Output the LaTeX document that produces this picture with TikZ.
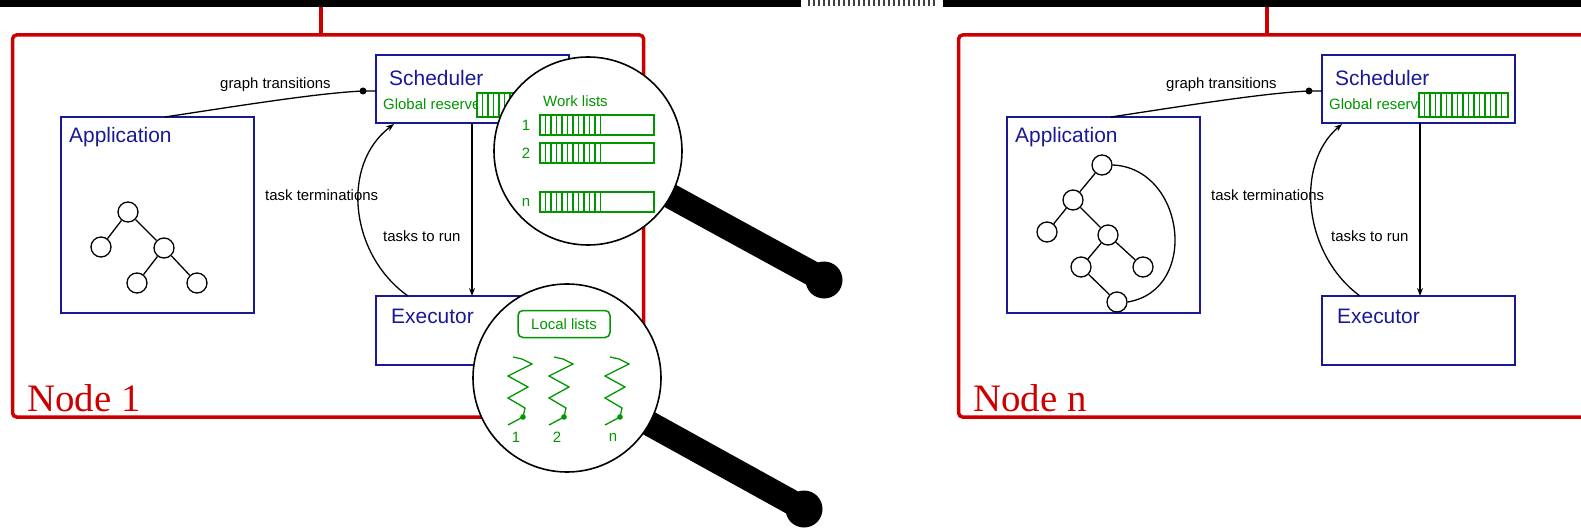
\documentclass[tikz,border=0pt]{standalone}
\usepackage{fontspec}
\setmainfont{Liberation Sans}
\newfontfamily\nodeserif{Liberation Serif}
\usetikzlibrary{arrows.meta}
\definecolor{cred}{RGB}{204,0,0}
\definecolor{cblue}{RGB}{25,25,150}
\definecolor{cgreen}{RGB}{0,150,0}
\tikzset{
 redbox/.style={draw=cred, line width=3.5bp, rounded corners=4bp, anchor=north west, inner sep=0, outer sep=0},
 bluebox/.style={draw=cblue, line width=1.8bp, anchor=north west, inner sep=0, outer sep=0, fill=white},
 boxtitle/.style={text=cblue, font=\fontsize{21}{23}\selectfont, anchor=west, inner sep=0},
 lbl/.style={font=\fontsize{15}{17}\selectfont, anchor=west, inner sep=0},
 grn/.style={text=cgreen, font=\fontsize{15}{17}\selectfont, inner sep=0},
 gbar/.style={draw=cgreen, line width=1.5bp, fill=white, anchor=north west, inner sep=0, outer sep=0},
 stripe/.style={draw=cgreen, line width=1.3bp},
 conn/.style={line width=1.3bp},
 arr/.style={conn, -{Stealth[length=8bp,width=6bp]}},
 tnode/.style={circle, draw, line width=1.3bp, minimum size=20bp, inner sep=0, fill=white},
 lens/.style={circle, draw, line width=1.6bp, fill=white, minimum size=188bp, inner sep=0},
 handle/.style={line width=25bp, line cap=round},
 nodelabel/.style={text=cred, font=\nodeserif\fontsize{39}{41}\selectfont, anchor=base west, inner sep=0},
 stem/.style={draw=cred, line width=3.5bp},
}
\begin{document}
\begin{tikzpicture}[x=1bp,y=-1bp]
\useasboundingbox (0,0) rectangle (1581,532);
\clip (0,0) rectangle (1581,532);
% ---------- bus ----------
\fill (0,0) rectangle (801,7);
\fill (943,0) rectangle (1581,7);
\draw[line width=6bp, dash pattern=on 2bp off 3bp, black!75] (808,3) -- (938,3);
\coordinate (bus1) at (321,7);
\coordinate (bus2) at (1267,7);

% ================= NODE 1 =================
\node[redbox, minimum width=631bp, minimum height=382bp] (rb1) at (12.6,35) {};
\draw[stem] (bus1) -- (bus1 |- rb1.north);
\node[nodelabel] (nl1) at (27,411) {Node 1};

\node[bluebox, minimum width=193bp, minimum height=196bp] (app1) at (61,117) {};
\node[boxtitle] (app1t) at (69,137) {Application};
\node[bluebox, minimum width=193bp, minimum height=68bp] (sch1) at (376,55) {};
\node[boxtitle] (sch1t) at (389,78) {Scheduler};
\node[bluebox, minimum width=193bp, minimum height=69bp] (exe1) at (376,296) {};
\node[boxtitle] (exe1t) at (391,316) {Executor};

\node[grn, anchor=west] (gr1) at (383,104) {Global reserve};
\node[gbar, minimum width=89bp, minimum height=24bp] (bar1) at (477,93) {};
\foreach \k in {1,...,15} \draw[stripe] ([xshift=5.5*\k bp]bar1.north west) -- ([xshift=5.5*\k bp]bar1.south west);

% tree
\node[tnode] (t1a) at (128,212) {};
\node[tnode] (t1b) at (101,247) {};
\node[tnode] (t1c) at (164,248) {};
\node[tnode] (t1d) at (137,283) {};
\node[tnode] (t1e) at (197,283) {};
\draw[conn] (t1a) -- (t1b);
\draw[conn] (t1a) -- (t1c);
\draw[conn] (t1c) -- (t1d);
\draw[conn] (t1c) -- (t1e);

% connectors
\coordinate (gs1) at (165,117);
\coordinate (gd1) at (363,91);
\draw[conn] (gs1) .. controls (250,104) and (320,93) .. (gd1) -- (gd1 -| sch1.west);
\fill (gd1) circle (3.5bp);
\node[lbl] (gt1) at (220,85) {graph transitions};

\coordinate (tr1) at (472,123);
\draw[arr] (tr1) -- (tr1 |- exe1.north);
\node[lbl] (trl1) at (383,236) {tasks to run};

\coordinate (tta1) at (408,296);
\coordinate (ttb1) at (394,124);
\draw[arr] (tta1) .. controls (350,255) and (340,165) .. (ttb1);
\node[lbl] (ttl1) at (265,195) {task terminations};

% magnifier 1
\coordinate (blob1) at (824,280);
\draw[handle] (588,151) -- (blob1);
\fill (blob1) circle (18.5bp);
\node[lens] (lens1) at (588,151) {};
\node[grn, anchor=west] (wl) at (543,101) {Work lists};
\foreach \n/\y/\l in {a/115/1, b/143/2, c/192/n} {
  \node[gbar, minimum width=114bp, minimum height=20bp] (wl\n) at (540,\y) {};
  \node[grn] (wl\n t) at (526,\y+10) {\l};
  \foreach \k in {1,...,11} \draw[stripe] ([xshift=5.5*\k bp]wl\n.north west) -- ([xshift=5.5*\k bp]wl\n.south west);
}

% magnifier 2
\coordinate (blob2) at (804,509);
\draw[handle] (567,378) -- (blob2);
\fill (blob2) circle (18.5bp);
\node[lens] (lens2) at (567,378) {};
\node[grn, draw=cgreen, line width=1.5bp, rounded corners=5bp, minimum width=92bp, minimum height=27bp] (ll) at (564,324) {Local lists};
\foreach \c/\l/\n in {520/1/a, 561/2/b, 617/n/c} {
  \draw[cgreen, line width=1.3bp] ({\c-7},357) -- ({\c+2},359) -- ({\c+12},364) -- ({\c-12},376) -- ({\c+8},387) -- ({\c-12},398) -- ({\c+5},408) -- ({\c+3},417) -- ({\c-12},425);
  \fill[cgreen] ({\c+3},417) circle (2.8bp);
  \node[grn] (sp\n) at ({\c-4},437) {\l};
}

% ================= NODE n =================
\begin{scope}[xshift=946bp]
\node[redbox, minimum width=631bp, minimum height=382bp] (rb2) at (12.6,35) {};
\node[nodelabel] (nl2) at (27,411) {Node n};

\node[bluebox, minimum width=193bp, minimum height=196bp] (app2) at (61,117) {};
\node[boxtitle] (app2t) at (69,137) {Application};
\node[bluebox, minimum width=193bp, minimum height=68bp] (sch2) at (376,55) {};
\node[boxtitle] (sch2t) at (389,78) {Scheduler};
\node[bluebox, minimum width=193bp, minimum height=69bp] (exe2) at (376,296) {};
\node[boxtitle] (exe2t) at (391,316) {Executor};

\node[grn, anchor=west] (gr2) at (383,104) {Global reserve};
\node[gbar, minimum width=89bp, minimum height=24bp] (bar2) at (473,93) {};
\foreach \k in {1,...,15} \draw[stripe] ([xshift=5.5*\k bp]bar2.north west) -- ([xshift=5.5*\k bp]bar2.south west);

% tree
\node[tnode] (t2a) at (156,165) {};
\node[tnode] (t2b) at (127,200) {};
\node[tnode] (t2c) at (101,232) {};
\node[tnode] (t2d) at (162,235) {};
\node[tnode] (t2e) at (135,267) {};
\node[tnode] (t2f) at (197,267) {};
\node[tnode] (t2g) at (171,302) {};
\draw[conn] (t2a) -- (t2b);
\draw[conn] (t2b) -- (t2c);
\draw[conn] (t2b) -- (t2d);
\draw[conn] (t2d) -- (t2e);
\draw[conn] (t2d) -- (t2f);
\draw[conn] (t2e) -- (t2g);
\draw[conn] (t2a.east) .. controls (239,168) and (254,290) .. (t2g.east);

% connectors
\coordinate (gs2) at (165,117);
\coordinate (gd2) at (363,91);
\draw[conn] (gs2) .. controls (250,104) and (320,93) .. (gd2) -- (gd2 -| sch2.west);
\fill (gd2) circle (3.5bp);
\node[lbl] (gt2) at (220,85) {graph transitions};

\coordinate (tr2) at (474,123);
\draw[arr] (tr2) -- (tr2 |- exe2.north);
\node[lbl] (trl2) at (385,236) {tasks to run};

\coordinate (tta2) at (414,296);
\coordinate (ttb2) at (396,124);
\draw[arr] (tta2) .. controls (358,255) and (348,165) .. (ttb2);
\node[lbl] (ttl2) at (265,195) {task terminations};
\end{scope}
\draw[stem] (bus2) -- (bus2 |- rb2.north);
\end{tikzpicture}
\end{document}
